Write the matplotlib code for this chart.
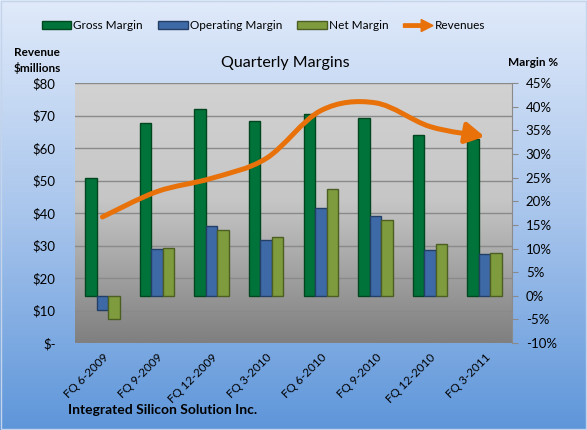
import numpy as np
import matplotlib.pyplot as plt
import matplotlib.patches as mpatches
from matplotlib.path import Path
from matplotlib.legend_handler import HandlerPatch
from matplotlib.colors import LinearSegmentedColormap

plt.rcParams['font.family'] = ['Lato', 'DejaVu Sans']

# data
quarters = ['FQ 6-2009', 'FQ 9-2009', 'FQ 12-2009', 'FQ 3-2010',
            'FQ 6-2010', 'FQ 9-2010', 'FQ 12-2010', 'FQ 3-2011']
gross_margin = [24.9, 36.5, 39.6, 37.0, 38.4, 37.7, 33.9, 33.1]
operating_margin = [-2.9, 9.9, 14.7, 11.7, 18.5, 16.9, 9.6, 8.8]
net_margin = [-4.9, 10.2, 14.0, 12.4, 22.5, 16.0, 10.9, 9.0]
revenues = [38.8, 46.6, 50.7, 56.8, 71.5, 73.9, 66.6, 63.5]

left_ticks = [0, 10, 20, 30, 40, 50, 60, 70, 80]
left_labels = ['$-', '$10', '$20', '$30', '$40', '$50', '$60', '$70', '$80']
right_ticks = [-10, -5, 0, 5, 10, 15, 20, 25, 30, 35, 40, 45]

green = '#00733a'
blue = '#3d6aa6'
olive = '#7e9c3d'
orange = '#e8710a'

fig = plt.figure(figsize=(5.87, 4.30), dpi=100)

# blue figure background gradient
bg = fig.add_axes([0, 0, 1, 1], zorder=-10)
bg_cmap = LinearSegmentedColormap.from_list('bg', ['#5e96da', '#a8c5ec', '#e0eafa'])
bg.imshow(np.linspace(0, 1, 256).reshape(-1, 1)[::-1], cmap=bg_cmap,
          aspect='auto', extent=[0, 1, 0, 1])
bg.axis('off')
fig.patches.append(mpatches.Rectangle((0.002, 0.002), 0.996, 0.995, transform=fig.transFigure,
                                      fill=False, edgecolor='#c4d4ea', linewidth=1))

# revenue axes (left) carries grid and plot-area gradient
ax = fig.add_axes([0.128, 0.202, 0.744, 0.605])
ax.set_facecolor('none')
x = np.arange(len(quarters))
ax.set_xlim(-0.5, len(quarters) - 0.5)
ax.set_ylim(0, 80)
pa_cmap = LinearSegmentedColormap.from_list('pa', [(0, '#7f7f7f'), (0.55, '#c6c6c6'), (1, '#d2d2d2')])
ax.imshow(np.linspace(0, 1, 256).reshape(-1, 1)[::-1], cmap=pa_cmap, aspect='auto',
          extent=[-0.5, len(quarters) - 0.5, 0, 80], zorder=0)
ax.set_yticks(left_ticks)
ax.set_yticklabels(left_labels)
ax.yaxis.grid(True, color='#8a8a8a', linewidth=1)
ax.set_axisbelow(True)
ax.tick_params(axis='y', length=0, pad=14, labelsize=9.5)
ax.set_xticks(x)
ax.set_xticklabels(quarters, rotation=45, ha='right', rotation_mode='anchor', fontsize=8.5)
ax.tick_params(axis='x', length=0, pad=6)
for s in ax.spines.values():
    s.set_visible(False)

# margin axes (right) with bars
ax2 = ax.twinx()
ax2.set_ylim(-10, 45)
ax2.set_yticks(right_ticks)
ax2.set_yticklabels([f'{t}%' for t in right_ticks])
ax2.tick_params(axis='y', length=4, color='#8a8a8a', pad=6, labelsize=9.5)
for name, s in ax2.spines.items():
    s.set_visible(name == 'right')
ax2.spines['right'].set_color('#8a8a8a')

w = 0.21
ax2.bar(x - w, gross_margin, w, color=green, edgecolor='#00461f', linewidth=1, zorder=2)
ax2.bar(x, operating_margin, w, color=blue, edgecolor='#243f66', linewidth=1, zorder=2)
ax2.bar(x + w, net_margin, w, color=olive, edgecolor='#4c5e22', linewidth=1, zorder=2)

# smoothed revenue line with arrow head, in revenue coordinates
pts = np.column_stack([x, revenues]).astype(float)
verts = [pts[0]]
codes = [Path.MOVETO]
for i in range(len(pts) - 1):
    p0 = pts[i - 1] if i > 0 else pts[i]
    p1, p2 = pts[i], pts[i + 1]
    p3 = pts[i + 2] if i + 2 < len(pts) else pts[i + 1]
    verts += [p1 + (p2 - p0) / 6, p2 - (p3 - p1) / 6, p2]
    codes += [Path.CURVE4] * 3
rev_line = mpatches.FancyArrowPatch(path=Path(verts, codes), transform=ax.transData,
                                    arrowstyle='-|>,head_length=0.8,head_width=0.45',
                                    mutation_scale=14, color=orange, linewidth=3.6,
                                    capstyle='round', zorder=5)
ax2.add_patch(rev_line)

# texts
fig.text(0.024, 0.859, 'Revenue\n$millions', fontsize=8.5, fontweight='bold', ha='left',
         va='center', linespacing=1.35)
fig.text(0.486, 0.853, 'Quarterly Margins', fontsize=11.5, ha='center', va='center')
fig.text(0.866, 0.855, 'Margin %', fontsize=8.5, fontweight='bold', ha='left', va='center')
fig.text(0.116, 0.047, 'Integrated Silicon Solution Inc.', fontsize=10, fontweight='bold',
         ha='left', va='center')

# legend
h_gross = mpatches.Patch(facecolor=green, edgecolor='#00461f', label='Gross Margin')
h_op = mpatches.Patch(facecolor=blue, edgecolor='#243f66', label='Operating Margin')
h_net = mpatches.Patch(facecolor=olive, edgecolor='#4c5e22', label='Net Margin')
h_rev = mpatches.Patch(color=orange, label='Revenues')


def make_arrow(legend, orig_handle, xdescent, ydescent, width, height, fontsize):
    return mpatches.FancyArrow(0, height / 2, width, 0, width=height * 0.45,
                               head_width=height * 1.6, head_length=width * 0.4,
                               length_includes_head=True, color=orange)


fig.legend(handles=[h_gross, h_op, h_net, h_rev], loc='center', bbox_to_anchor=(0.449, 0.94),
           ncol=4, frameon=False, fontsize=8.5, handlelength=2.5, handleheight=0.6,
           handletextpad=0.15, columnspacing=1.3, borderpad=0.2,
           handler_map={h_rev: HandlerPatch(patch_func=make_arrow)})

fig.savefig('out.png', dpi=100)
